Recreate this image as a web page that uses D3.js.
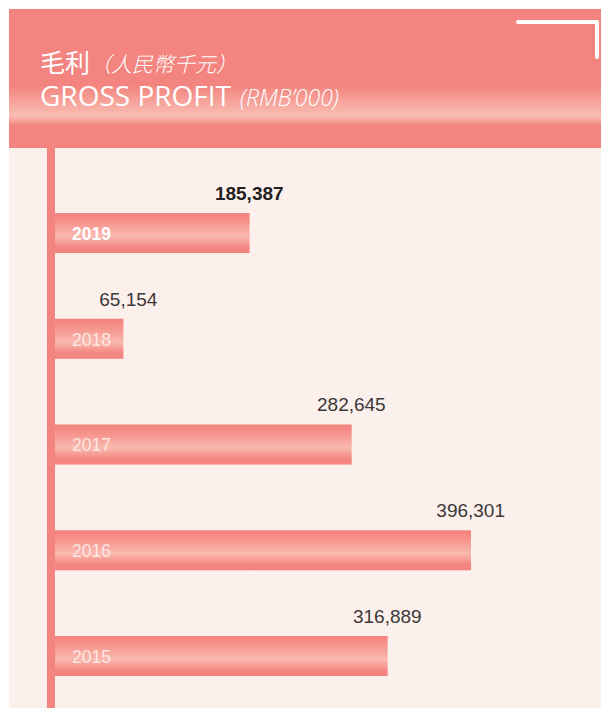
<!DOCTYPE html>
<html>
<head>
<meta charset="utf-8">
<script src="https://cdn.jsdelivr.net/npm/d3@7"></script>
<style>
  body { margin: 0; background: #fff; }
  svg { display: block; }
</style>
</head>
<body>
<script>
var w = 601,
    h = 708;

var years = ["2019", "2018", "2017", "2016", "2015"];
var profit = [185387, 65154, 282645, 396301, 316889];
var current = "2019";

var titleCn = "毛利",
    titleCnUnit = "（人民幣千元）",
    titleEn = "GROSS PROFIT",
    titleEnUnit = "(RMB’000)";

var svg = d3.select("body").append("svg")
    .attr("width", w)
    .attr("height", h);

var defs = svg.append("defs");

// header gradient: flat pink with a light band near the bottom
var hg = defs.append("linearGradient")
    .attr("id", "headGrad")
    .attr("x1", 0).attr("y1", 0).attr("x2", 0).attr("y2", 1);
hg.append("stop").attr("offset", "0%").attr("stop-color", "#f3847f");
hg.append("stop").attr("offset", "55%").attr("stop-color", "#f3847f");
hg.append("stop").attr("offset", "73%").attr("stop-color", "#f8b3a9");
hg.append("stop").attr("offset", "77%").attr("stop-color", "#f9bcb2");
hg.append("stop").attr("offset", "84%").attr("stop-color", "#f3847f");
hg.append("stop").attr("offset", "100%").attr("stop-color", "#f3847f");

// bar gradient
var bg = defs.append("linearGradient")
    .attr("id", "barGrad")
    .attr("x1", 0).attr("y1", 0).attr("x2", 0).attr("y2", 1);
bg.append("stop").attr("offset", "0%").attr("stop-color", "#f3827e");
bg.append("stop").attr("offset", "20%").attr("stop-color", "#f59089");
bg.append("stop").attr("offset", "58%").attr("stop-color", "#f9bab0");
bg.append("stop").attr("offset", "85%").attr("stop-color", "#f38781");
bg.append("stop").attr("offset", "100%").attr("stop-color", "#f3827e");

// panel background
svg.append("rect")
    .attr("x", 9).attr("y", 148)
    .attr("width", w - 9).attr("height", h - 148)
    .attr("fill", "#fcf0ec");

// header
svg.append("rect")
    .attr("x", 9).attr("y", 9)
    .attr("width", w - 9).attr("height", 139)
    .attr("fill", "url(#headGrad)");

svg.append("path")
    .attr("d", "M518,22 H597 V57")
    .attr("fill", "none")
    .attr("stroke", "#fff")
    .attr("stroke-width", 4)
    .attr("stroke-linecap", "round")
    .attr("stroke-linejoin", "round");

var t1 = svg.append("text")
    .attr("x", 40).attr("y", 72)
    .attr("fill", "#fff")
    .style("font-family", "'Noto Sans CJK TC', 'Noto Sans CJK SC', sans-serif");
t1.append("tspan").style("font-size", "25px").style("font-weight", 400).text(titleCn);
t1.append("tspan").style("font-size", "21px").style("font-weight", 300)
    .style("font-style", "italic").text(titleCnUnit);

var t2 = svg.append("text")
    .attr("x", 40).attr("y", 106)
    .attr("fill", "#fff")
    .style("font-family", "'Open Sans', 'Noto Sans', sans-serif");
t2.append("tspan").style("font-size", "28px").style("font-weight", 500).text(titleEn);
t2.append("tspan").style("font-size", "23px").style("font-weight", 300)
    .style("font-style", "italic").attr("dx", 9).text(titleEnUnit);

// scales
var x = d3.scaleLinear()
    .domain([0, d3.max(profit)])
    .range([0, 416]);

var y = d3.scaleBand()
    .domain(years)
    .range([213, 676])
    .paddingInner(0.6217)
    .paddingOuter(0);

var x0 = 55;

// vertical axis line
svg.append("rect")
    .attr("x", 47).attr("y", 148)
    .attr("width", 8).attr("height", h - 148)
    .attr("fill", "#f3847f");

var data = years.map(function(d, i){ return {year: d, value: profit[i]}; });

var row = svg.selectAll(".row")
    .data(data)
  .enter().append("g")
    .attr("class", "row");

row.append("rect")
    .attr("x", x0)
    .attr("y", function(d){ return y(d.year); })
    .attr("width", function(d){ return x(d.value); })
    .attr("height", y.bandwidth())
    .attr("fill", "url(#barGrad)");

row.append("text")
    .attr("x", 72)
    .attr("y", function(d){ return y(d.year) + 27; })
    .attr("fill", function(d){ return d.year === current ? "#fff" : "#fde6e2"; })
    .style("font-family", "'Liberation Sans', Arial, sans-serif")
    .style("font-size", "17.5px")
    .style("font-weight", function(d){ return d.year === current ? 700 : 400; })
    .text(function(d){ return d.year; });

row.append("text")
    .attr("x", function(d){ return x0 + x(d.value) + 34; })
    .attr("y", function(d){ return y(d.year) - 13; })
    .attr("text-anchor", "end")
    .attr("fill", function(d){ return d.year === current ? "#231f20" : "#3b3838"; })
    .style("font-family", "'Liberation Sans', Arial, sans-serif")
    .style("font-size", "19px")
    .style("font-weight", function(d){ return d.year === current ? 700 : 400; })
    .text(function(d){ return d3.format(",")(d.value); });
</script>
</body>
</html>
